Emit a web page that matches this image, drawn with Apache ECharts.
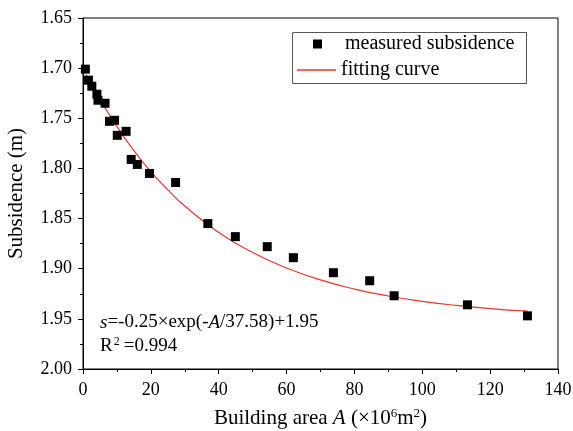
<!DOCTYPE html>
<html>
<head>
<meta charset="utf-8">
<script src="https://cdn.jsdelivr.net/npm/echarts@6/dist/echarts.min.js"></script>
<style>html,body{margin:0;padding:0;background:#fff;}#c{width:573px;height:431px;}</style>
</head>
<body>
<div id="c"></div>
<script>
// Measured points: building area A (x10^6 m^2), subsidence (m)
const areaMeasured = [0.7, 1.6, 2.6, 4.1, 4.4, 6.5, 7.8, 9.3, 10.1, 12.7, 14.2, 16.0, 19.6, 27.3, 36.8, 44.9, 54.3, 62.0, 73.8, 84.5, 91.7, 113.3, 131.0];
const subsMeasured = [1.701, 1.712, 1.718, 1.726, 1.732, 1.735, 1.753, 1.752, 1.767, 1.763, 1.791, 1.796, 1.805, 1.814, 1.855, 1.868, 1.878, 1.889, 1.904, 1.912, 1.927, 1.936, 1.947];
// Fitting curve
const areaCurve = [1, 2.5, 5, 7.5, 10, 15, 20, 25, 30, 40, 50, 60, 70, 80, 90, 100, 110, 120, 131];
const subsCurve = [1.7066, 1.7165, 1.7311, 1.7451, 1.7584, 1.7823, 1.8032, 1.8214, 1.8375, 1.8638, 1.8839, 1.8993, 1.9112, 1.9203, 1.9272, 1.9325, 1.9366, 1.9397, 1.9423];
const xTicks = [0, 20, 40, 60, 80, 100, 120, 140];
const yTicks = ['1.65', '1.70', '1.75', '1.80', '1.85', '1.90', '1.95', '2.00'];

const serif = '"Times New Roman", "Liberation Serif", serif';
const chart = echarts.init(document.getElementById('c'), null, {renderer: 'canvas'});
chart.setOption({
  animation: false,
  backgroundColor: '#fff',
  grid: {left: 83, right: 15, top: 18, bottom: 62, show: true, borderColor: '#000', borderWidth: 1,
    backgroundColor: 'transparent', containLabel: false, outerBoundsMode: 'none'},
  xAxis: {
    type: 'value', min: xTicks[0], max: xTicks[xTicks.length - 1], interval: 20,
    axisLine: {lineStyle: {color: '#000', width: 1}},
    axisTick: {show: true, inside: false, length: 5, lineStyle: {color: '#000'}},
    minorTick: {show: true, splitNumber: 2, length: 3, lineStyle: {color: '#000'}},
    splitLine: {show: false},
    axisLabel: {color: '#000', fontFamily: serif, fontSize: 18, margin: 12},
    name: '{n|Building area }{i|A}{n| (×10}{s|6}{n|m}{s|2}{n|)}',
    nameLocation: 'middle', nameGap: 38,
    nameTextStyle: {
      color: '#000', fontFamily: serif, fontSize: 21,
      rich: {
        n: {fontFamily: serif, fontSize: 21, color: '#000'},
        i: {fontFamily: serif, fontSize: 21, fontStyle: 'italic', color: '#000'},
        s: {fontFamily: serif, fontSize: 13, color: '#000', verticalAlign: 'top', padding: [0, 0, 10, 0]}
      }
    }
  },
  yAxis: {
    type: 'value', inverse: true, min: 1.65, max: 2.00, interval: 0.05,
    axisLine: {show: true, lineStyle: {color: '#000', width: 1}},
    axisTick: {show: true, inside: false, length: 5, lineStyle: {color: '#000'}},
    minorTick: {show: true, splitNumber: 2, length: 3, lineStyle: {color: '#000'}},
    splitLine: {show: false},
    axisLabel: {color: '#000', fontFamily: serif, fontSize: 18, margin: 11,
      formatter: function (v) { const s = v.toFixed(2); return yTicks.indexOf(s) >= 0 ? s : ''; }},
    name: 'Subsidence (m)', nameLocation: 'middle', nameGap: 56, nameRotate: 90,
    nameTextStyle: {color: '#000', fontFamily: serif, fontSize: 21}
  },
  legend: [
    {
      data: ['measured subsidence'], left: 313, top: 34, padding: 0,
      icon: 'rect', itemWidth: 9, itemHeight: 9,
      textStyle: {fontFamily: serif, fontSize: 20, color: '#000', padding: [0, 0, 0, 18]},
      selectedMode: false
    },
    {
      data: [{name: 'fitting curve', icon: 'rect'}], left: 297, top: 60, padding: 0,
      itemWidth: 39, itemHeight: 1.5,
      textStyle: {fontFamily: serif, fontSize: 20, color: '#000', padding: [0, 0, 0, 0]},
      selectedMode: false
    }
  ],
  graphic: [
    {type: 'rect', left: 290, top: 30, shape: {width: 234, height: 51}, style: {fill: 'none', stroke: '#555', lineWidth: 1}, silent: true},
    {type: 'text', left: 100, top: 313, style: {
      text: '{i|s}{n|=-0.25×exp(-}{i|A}{n|/37.58)+1.95}',
      rich: {
        n: {fontFamily: serif, fontSize: 19, fill: '#000'},
        i: {fontFamily: serif, fontSize: 19, fontStyle: 'italic', fill: '#000'}
      }
    }},
    {type: 'text', left: 100, top: 336, style: {
      text: '{n|R}{s|2}{n|=0.994}',
      rich: {
        n: {fontFamily: serif, fontSize: 19, fill: '#000'},
        s: {fontFamily: serif, fontSize: 12, fill: '#000', verticalAlign: 'top', padding: [0, 4, 9, 1]}
      }
    }}
  ],
  series: [
    {
      name: 'measured subsidence', type: 'scatter', symbol: 'rect', symbolSize: 9,
      itemStyle: {color: '#000', opacity: 1},
      data: areaMeasured.map((a, i) => [a, subsMeasured[i]]), z: 3
    },
    {
      name: 'fitting curve', type: 'line', smooth: true, symbol: 'none', showSymbol: false,
      lineStyle: {color: '#e8372c', width: 1.2}, itemStyle: {color: '#e8372c'},
      data: areaCurve.map((a, i) => [a, subsCurve[i]]), z: 2
    }
  ]
});
</script>
</body>
</html>
